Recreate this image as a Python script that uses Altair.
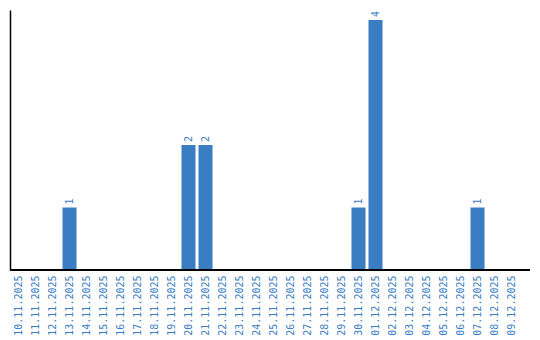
import altair as alt
import pandas as pd

dates = ["10.11.2025","11.11.2025","12.11.2025","13.11.2025","14.11.2025","15.11.2025",
         "16.11.2025","17.11.2025","18.11.2025","19.11.2025","20.11.2025","21.11.2025",
         "22.11.2025","23.11.2025","24.11.2025","25.11.2025","26.11.2025","27.11.2025",
         "28.11.2025","29.11.2025","30.11.2025","01.12.2025","02.12.2025","03.12.2025",
         "04.12.2025","05.12.2025","06.12.2025","07.12.2025","08.12.2025","09.12.2025"]
counts = [0,0,0,1,0,0,0,0,0,0,2,2,0,0,0,0,0,0,0,0,1,4,0,0,0,0,0,1,0,0]

df = pd.DataFrame({"date": dates, "count": counts})
df["label"] = [str(c) if c > 0 else "" for c in counts]

blue = "#3a7dc2"
font = "DejaVu Sans Mono"

xscale = alt.Scale(range=[0, 510], paddingInner=0.176, paddingOuter=0.088)
x = alt.X("date:N", sort=dates, title=None, scale=xscale,
          axis=alt.Axis(labelAngle=270, labelAlign="right", labelBaseline="middle",
                        labelColor=blue, labelFont=font, labelFontSize=10,
                        ticks=False, domain=False, labelPadding=5))
y = alt.Y("count:Q", title=None, scale=alt.Scale(domain=[0, 4.16], nice=False),
          axis=alt.Axis(labels=False, ticks=False, grid=False, domainColor="black",
                        domainWidth=1.5))

bars = alt.Chart(df).mark_bar(color=blue).encode(x=x, y=y)
text = alt.Chart(df).mark_text(angle=270, align="left", baseline="middle", dx=3,
                               color=blue, font=font, fontSize=10).encode(
    x=alt.X("date:N", sort=dates, scale=xscale), y="count:Q", text="label:N")
baseline = alt.Chart(df).mark_rule(color="black", strokeWidth=1.5).encode(
    x=alt.value(0), x2=alt.value(520), y=alt.value(260))

chart = (bars + text + baseline).properties(
    width=520, height=260,
    padding={"left": 10, "top": 10, "right": 10, "bottom": 70},
    autosize=alt.AutoSizeParams(type="none")
).configure_view(stroke=None)

chart.save("out.html", embed_options={"renderer": "svg", "actions": False})
